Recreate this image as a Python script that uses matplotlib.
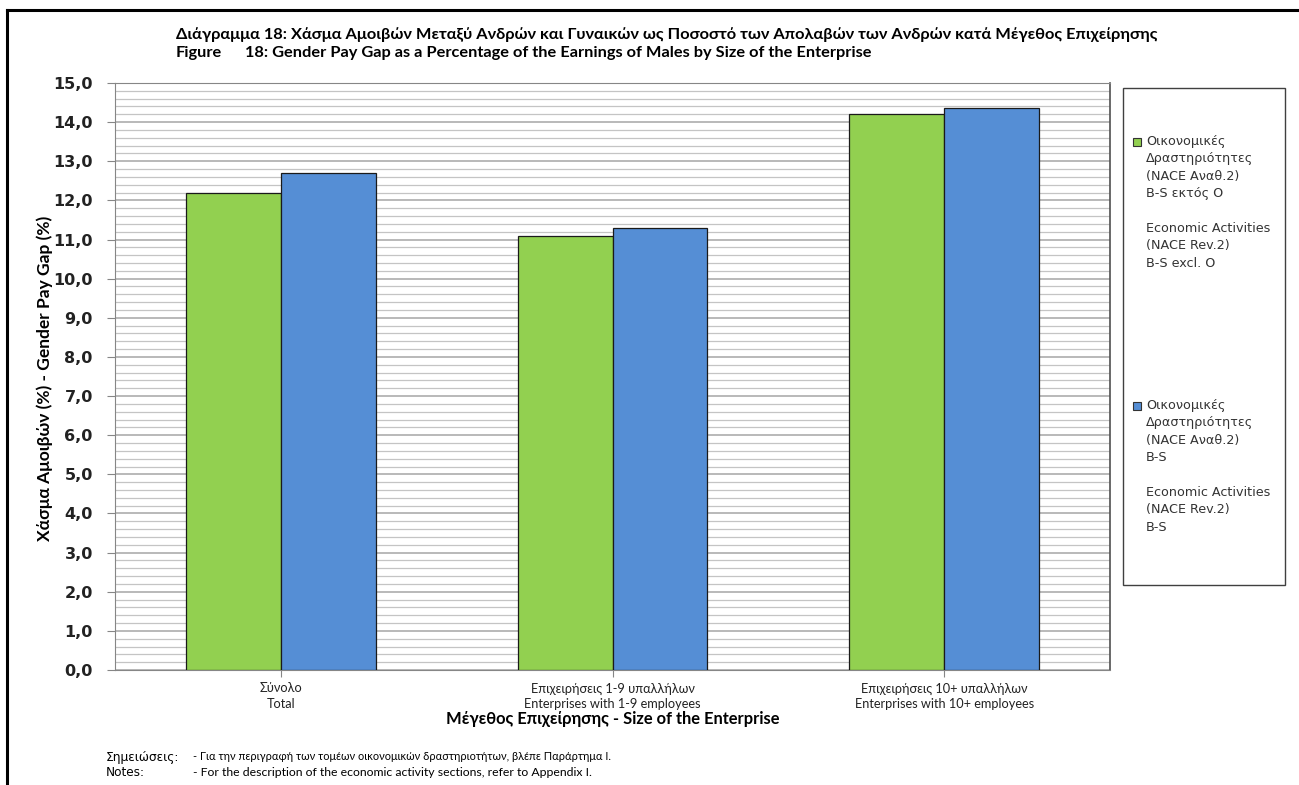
import matplotlib
matplotlib.use("Agg")
import matplotlib.pyplot as plt
from matplotlib.patches import Rectangle
from matplotlib.lines import Line2D
from matplotlib.ticker import MultipleLocator, FuncFormatter
import numpy as np

categories = ["Σύνολο\nTotal",
              "Επιχειρήσεις 1-9 υπαλλήλων\nEnterprises with 1-9 employees",
              "Επιχειρήσεις 10+ υπαλλήλων\nEnterprises with 10+ employees"]
series_excl_o = [12.2, 11.1, 14.2]
series_b_s = [12.7, 11.3, 14.35]
legend_labels = [
    "Οικονομικές\nΔραστηριότητες\n(NACE Αναθ.2)\nB-S εκτός Ο\n\nEconomic Activities\n(NACE Rev.2)\nB-S excl. O",
    "Οικονομικές\nΔραστηριότητες\n(NACE Αναθ.2)\nB-S\n\nEconomic Activities\n(NACE Rev.2)\nB-S",
]
colors = ["#92D050", "#558ED5"]
title1 = "Διάγραμμα 18: Χάσμα Αμοιβών Μεταξύ Ανδρών και Γυναικών ως Ποσοστό των Απολαβών των Ανδρών κατά Μέγεθος Επιχείρησης"
title2_a = "Figure"
title2_b = "18: Gender Pay Gap as a Percentage of the Earnings of Males by Size of the Enterprise"
ylabel = "Χάσμα Αμοιβών (%) - Gender Pay Gap (%)"
xlabel = "Μέγεθος Επιχείρησης - Size of the Enterprise"
notes_gr = ("Σημειώσεις:", "- Για την περιγραφή των τομέων οικονομικών δραστηριοτήτων, βλέπε Παράρτημα Ι.")
notes_en = ("Notes:", "- For the description of the economic activity sections, refer to Appendix I.")

W, H = 1299, 785
fig = plt.figure(figsize=(W / 100, H / 100), dpi=100)
fig.patch.set_facecolor("white")

def fx(px):
    return px / W

def fy(py):
    return 1 - py / H

ax = fig.add_axes([fx(115), fy(670), fx(1110) - fx(115), fy(83) - fy(670)])

x = np.arange(len(categories))
bw = 0.286
ax.bar(x - bw / 2, series_excl_o, bw, color=colors[0], edgecolor="#1a1a1a", linewidth=0.9, zorder=3)
ax.bar(x + bw / 2, series_b_s, bw, color=colors[1], edgecolor="#1a1a1a", linewidth=0.9, zorder=3)

ax.set_xlim(-0.5, 2.5)
ax.set_ylim(0, 15)
ax.yaxis.set_major_locator(MultipleLocator(1))
ax.yaxis.set_minor_locator(MultipleLocator(0.2))
ax.yaxis.set_major_formatter(FuncFormatter(lambda v, p: f"{v:.1f}".replace(".", ",")))
ax.grid(axis="y", which="major", color="#a6a6a6", linewidth=1.1, zorder=0)
ax.grid(axis="y", which="minor", color="#c4c4c4", linewidth=0.9, zorder=0)
ax.set_axisbelow(True)
ax.tick_params(axis="y", which="major", length=6, color="#868686", labelsize=11.5,
               labelcolor="#222222", pad=10)
ax.tick_params(axis="y", which="minor", length=0)
for t in ax.get_yticklabels():
    t.set_fontweight("bold")
    t.set_family("DejaVu Sans")
ax.set_xticks(x)
ax.set_xticklabels(categories, fontsize=9.2, family="Lato", color="#222222", linespacing=1.3)
ax.tick_params(axis="x", length=5, color="#868686", pad=4)
for s in ["left", "bottom", "top"]:
    ax.spines[s].set_color("#868686")
ax.spines["right"].set_color("#505050")
ax.spines["right"].set_linewidth(1.2)

ax.set_xlabel(xlabel, fontsize=11.9, fontweight="bold", family="Lato", labelpad=1)
fig.text(fx(45), fy(378), ylabel, rotation=90, ha="center", va="center",
         fontsize=12.5, fontweight="bold", family="Lato")

fig.text(fx(176), fy(35), title1, fontsize=11.8, fontweight="bold", family="Lato", va="center")
fig.text(fx(176), fy(53), title2_a, fontsize=11.8, fontweight="bold", family="Lato", va="center")
fig.text(fx(245), fy(53), title2_b, fontsize=11.8, fontweight="bold", family="Lato", va="center")

fig.text(fx(106), fy(757), notes_gr[0], fontsize=8.7, family="DejaVu Sans", va="center")
fig.text(fx(193), fy(757), notes_gr[1], fontsize=7.9, family="Lato", va="center")
fig.text(fx(106), fy(773), notes_en[0], fontsize=8.7, family="DejaVu Sans", va="center")
fig.text(fx(193), fy(773), notes_en[1], fontsize=8.8, family="Lato", va="center")

# legend (drawn by hand to keep Excel-like layout)
fig.add_artist(Rectangle((fx(1123), fy(585)), fx(1285) - fx(1123), fy(88) - fy(585),
                         transform=fig.transFigure, fill=False, edgecolor="#404040", linewidth=1.0))
entry_y = [142, 406]
for c, lab, yy in zip(colors, legend_labels, entry_y):
    fig.add_artist(Rectangle((fx(1133), fy(yy + 4)), fx(8), 8 / H, transform=fig.transFigure,
                             facecolor=c, edgecolor="#333333", linewidth=0.8))
    fig.text(fx(1146), fy(yy - 7), lab, fontsize=9.2, family="DejaVu Sans", color="#333333",
             va="top", ha="left", linespacing=1.44)

# figure frame lines
fig.add_artist(Line2D([fx(7), 1], [fy(10), fy(10)], transform=fig.transFigure, color="black", linewidth=2.2))
fig.add_artist(Line2D([fx(7), fx(7)], [0, fy(10)], transform=fig.transFigure, color="black", linewidth=2.2))

fig.savefig("out.png", dpi=100, facecolor="white")
